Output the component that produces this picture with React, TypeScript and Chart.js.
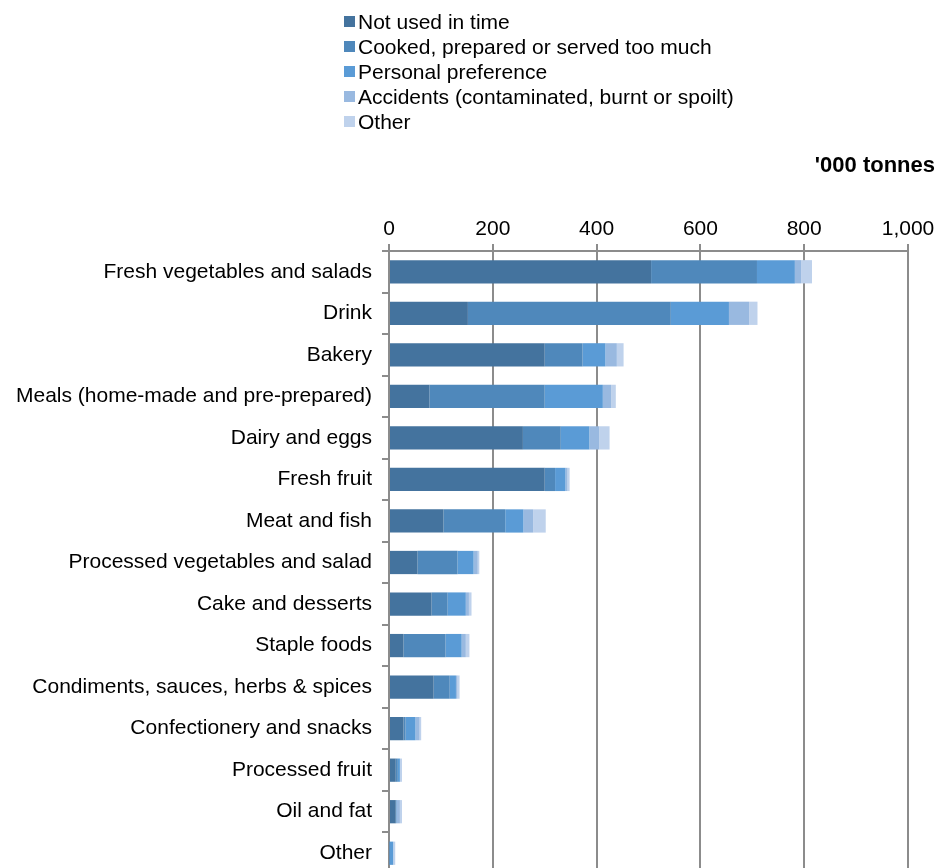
import React, { useEffect, useRef } from "react";
import { Chart, registerables } from "chart.js";

Chart.register(...registerables);

const categories = [
  "Fresh vegetables and salads",
  "Drink",
  "Bakery",
  "Meals (home-made and pre-prepared)",
  "Dairy and eggs",
  "Fresh fruit",
  "Meat and fish",
  "Processed vegetables and salad",
  "Cake and desserts",
  "Staple foods",
  "Condiments, sauces, herbs & spices",
  "Confectionery and snacks",
  "Processed fruit",
  "Oil and fat",
  "Other",
];

const seriesNames = [
  "Not used in time",
  "Cooked, prepared or served too much",
  "Personal preference",
  "Accidents (contaminated, burnt or spoilt)",
  "Other",
];

const seriesColors = ["#44739e", "#4f88bb", "#5a9bd6", "#99b9e0", "#bfd2ec"];

const notUsedInTime = [505, 152, 300, 78, 258, 300, 105, 55, 82, 28, 86, 28, 13, 13, 0];
const cookedTooMuch = [204, 391, 73, 222, 73, 20, 119, 77, 31, 81, 31, 4, 4, 1, 1];
const personalPreference = [73, 112, 44, 112, 55, 20, 35, 31, 35, 31, 12, 19, 4, 1, 7];
const accidents = [12, 39, 22, 16, 19, 4, 19, 8, 6, 8, 3, 8, 0, 6, 0];
const otherReason = [21, 16, 13, 9, 20, 4, 24, 3, 5, 7, 4, 3, 4, 4, 4];

const xTicks = [0, 200, 400, 600, 800, 1000];
const unitTitle = "'000 tonnes";

const FONT = '"Liberation Sans", Arial, Helvetica, sans-serif';
const GRID = "#8c8c8c";

export default function App() {
  const ref = useRef<HTMLCanvasElement>(null);

  useEffect(() => {
    const seriesValues = [notUsedInTime, cookedTooMuch, personalPreference, accidents, otherReason];
    const chart = new Chart(ref.current as HTMLCanvasElement, {
      type: "bar",
      data: {
        labels: categories,
        datasets: seriesNames.map((name, i) => ({
          label: name,
          data: seriesValues[i],
          backgroundColor: seriesColors[i],
          borderWidth: 0,
          barPercentage: 0.56,
          categoryPercentage: 1,
        })),
      },
      options: {
        indexAxis: "y",
        responsive: false,
        animation: false,
        layout: { padding: { top: 211, left: 0, right: 33, bottom: 0 } },
        plugins: {
          legend: { display: false },
          title: { display: false },
          tooltip: { enabled: false },
        },
        scales: {
          x: {
            position: "top",
            stacked: true,
            min: 0,
            max: 1000,
            afterBuildTicks: (s: any) => {
              s.ticks = xTicks.map((v) => ({ value: v }));
            },
            ticks: {
              font: { family: FONT, size: 21 },
              color: "#000",
              padding: 2,
              maxRotation: 0,
              autoSkip: false,
              callback: (v: any) => Number(v).toLocaleString("en-US"),
            },
            grid: { color: GRID, lineWidth: 2, tickLength: 7, drawTicks: true },
            border: { display: true, color: GRID, width: 2 },
            afterFit: (s: any) => {
              s.height = 40;
            },
          },
          y: {
            stacked: true,
            ticks: { font: { family: FONT, size: 21 }, color: "#000", padding: 10, autoSkip: false },
            grid: { drawOnChartArea: false, color: GRID, lineWidth: 2, tickLength: 7, offset: true },
            border: { display: true, color: GRID, width: 2 },
            afterFit: (s: any) => {
              s.width = 389;
              s.paddingTop = 0;
              s.paddingBottom = 0;
            },
          },
        },
      } as any,
    });
    return () => chart.destroy();
  }, []);

  return (
    <div
      style={{
        position: "fixed",
        left: 0,
        top: 0,
        width: 941,
        height: 868,
        overflow: "hidden",
        background: "#fff",
      }}
    >
      <canvas
        ref={ref}
        width={941}
        height={874}
        style={{ position: "absolute", left: 0, top: 0, display: "block" }}
      />
      <div
        style={{
          position: "absolute",
          left: 344,
          top: 9,
          fontFamily: FONT,
          fontSize: 21,
          color: "#000",
        }}
      >
        {seriesNames.map((name, i) => (
          <div
            key={name}
            style={{ display: "flex", alignItems: "center", height: 25, lineHeight: "25px", whiteSpace: "nowrap" }}
          >
            <span
              style={{
                display: "inline-block",
                width: 11,
                height: 11,
                background: seriesColors[i],
                marginRight: 3,
                flex: "0 0 auto",
              }}
            />
            <span>{name}</span>
          </div>
        ))}
      </div>
      <div
        style={{
          position: "absolute",
          right: 6,
          top: 152,
          fontFamily: FONT,
          fontSize: 22,
          fontWeight: "bold",
          lineHeight: "26px",
          color: "#000",
          whiteSpace: "nowrap",
        }}
      >
        {unitTitle}
      </div>
    </div>
  );
}
